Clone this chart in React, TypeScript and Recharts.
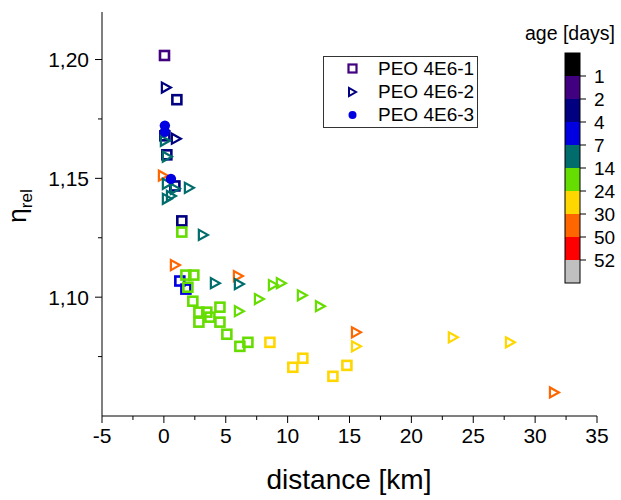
import { ScatterChart, Scatter, XAxis, YAxis } from 'recharts'

/* ---------- data ---------- */

// PEO 4E6-1 (squares)
const peo1Dist = [0.05, 1.05, 0.08, 0.24, 0.89, 1.45, 1.29, 1.78, 1.45, 1.78, 2.42, 1.94, 2.34, 2.83, 2.83, 3.47, 3.72, 4.53, 4.53, 5.09, 6.14, 6.79, 8.57, 10.42, 11.23, 13.66, 14.79]
const peo1Eta = [1.2017, 1.1831, 1.1679, 1.1599, 1.1468, 1.1321, 1.1068, 1.1034, 1.1274, 1.1093, 1.1093, 1.1042, 1.0983, 1.0937, 1.0895, 1.0937, 1.0916, 1.0958, 1.0895, 1.0844, 1.0793, 1.081, 1.081, 1.0705, 1.0743, 1.0667, 1.0713]
const peo1Age = [2, 4, 4, 4, 4, 4, 7, 7, 24, 24, 24, 24, 24, 24, 24, 24, 24, 24, 24, 24, 24, 24, 30, 30, 30, 30, 30]

// PEO 4E6-2 (triangles)
const peo2Dist = [0.16, 0.97, 0.08, 0.24, -0.08, 0.24, 0.89, 2.02, 0.57, 0.24, 3.15, 0.89, 4.12, 5.98, 6.06, 6.06, 7.68, 8.81, 9.45, 11.15, 12.61, 15.52, 15.52, 23.35, 27.96, 31.52]
const peo2Eta = [1.1882, 1.1667, 1.1658, 1.1591, 1.1511, 1.1477, 1.1456, 1.146, 1.1426, 1.1414, 1.1262, 1.1135, 1.1059, 1.1089, 1.1055, 1.0941, 1.0992, 1.1051, 1.1059, 1.1008, 1.0962, 1.0852, 1.0793, 1.0831, 1.081, 1.0599]
const peo2Age = [4, 4, 14, 14, 50, 14, 14, 14, 14, 14, 14, 50, 14, 50, 14, 24, 24, 24, 24, 24, 24, 50, 30, 30, 30, 50]

// PEO 4E6-3 (circles)
const peo3Dist = [0.08, 0.08, 0.57]
const peo3Eta = [1.1722, 1.1696, 1.1498]
const peo3Age = [7, 7, 7]

// colour scale
const ageLevels = [1, 2, 4, 7, 14, 24, 30, 50, 52]
const ageColors = ['#000000', '#400080', '#000080', '#0000e0', '#006c6c', '#66dd00', '#ffd700', '#ff6600', '#ff0000', '#c0c0c0']

const xTicks = [-5, -2.5, 0, 2.5, 5, 7.5, 10, 12.5, 15, 17.5, 20, 22.5, 25, 27.5, 30, 32.5, 35]
const yTicks = [1.075, 1.1, 1.125, 1.15, 1.175, 1.2]

/* ---------- helpers ---------- */

const FONT = '"Liberation Sans", Arial, sans-serif'

const ageColor = (a: number) => {
  const i = ageLevels.findIndex(l => a <= l)
  return ageColors[i < 0 ? ageColors.length - 1 : i]
}

const rows = (xs: number[], ys: number[], ages: number[]) =>
  xs.map((x, i) => ({ x, y: ys[i], age: ages[i] }))

const sq1 = rows(peo1Dist, peo1Eta, peo1Age)
const tri2 = rows(peo2Dist, peo2Eta, peo2Age)
const circ3 = rows(peo3Dist, peo3Eta, peo3Age)

const isMajorX = (v: number) => Math.abs(v % 5) < 1e-9
const isMajorY = (v: number) => Math.abs(v * 20 - Math.round(v * 20)) < 1e-6

function XTick({ x, y, payload }: any) {
  const major = isMajorX(payload.value)
  return (
    <g>
      <line x1={x} x2={x} y1={y} y2={y + (major ? 7 : 4)} stroke="#000" />
      {major && (
        <text x={x} y={y + 27} textAnchor="middle" fontSize={21} fontFamily={FONT} fill="#000">
          {payload.value}
        </text>
      )}
    </g>
  )
}

function YTick({ x, y, payload }: any) {
  const major = isMajorY(payload.value)
  return (
    <g>
      <line x1={x - (major ? 7 : 4)} x2={x} y1={y} y2={y} stroke="#000" />
      {major && (
        <text x={x - 13} y={y + 7.5} textAnchor="end" fontSize={21} fontFamily={FONT} fill="#000">
          {payload.value.toFixed(2).replace('.', ',')}
        </text>
      )}
    </g>
  )
}

const Square = ({ cx, cy, payload }: any) => (
  <rect x={cx - 4.5} y={cy - 4.5} width={9} height={9} fill="none" stroke={ageColor(payload.age)} strokeWidth={2.6} />
)
const Triangle = ({ cx, cy, payload }: any) => (
  <polygon points={`${cx - 4},${cy - 5} ${cx - 4},${cy + 5} ${cx + 5},${cy}`} fill="none" stroke={ageColor(payload.age)} strokeWidth={2.2} strokeLinejoin="miter" />
)
const Dot = ({ cx, cy, payload }: any) => <circle cx={cx} cy={cy} r={5.2} fill={ageColor(payload.age)} />

const YTitle = () => (
  <text transform="translate(26,206) rotate(-90)" textAnchor="middle" fontFamily={FONT} fill="#000">
    <tspan fontSize={26}>η</tspan>
    <tspan fontSize={17} dy={6}>rel</tspan>
  </text>
)

const XTitle = () => (
  <text x={349} y={489} textAnchor="middle" fontSize={28} fontFamily={FONT} fill="#000">
    distance [km]
  </text>
)

/* ---------- legend & colour bar ---------- */

const legendItems = ['PEO 4E6-1', 'PEO 4E6-2', 'PEO 4E6-3']

function SeriesLegend() {
  return (
    <div style={{ position: 'absolute', left: 323, top: 56, width: 153, height: 70, border: '1px solid #333', background: '#fff', fontFamily: FONT }}>
      {legendItems.map((name, i) => (
        <div key={name} style={{ position: 'absolute', left: 0, top: 1 + i * 23, height: 22, display: 'flex', alignItems: 'center' }}>
          <svg width={54} height={22}>
            {i === 0 && <rect x={24.5} y={6.5} width={8} height={8} fill="none" stroke="#400080" strokeWidth={2.2} />}
            {i === 1 && <polygon points="25,7 25,15 32,11" fill="none" stroke="#000080" strokeWidth={2} />}
            {i === 2 && <circle cx={28.5} cy={11} r={4} fill="#0000e0" />}
          </svg>
          <span style={{ fontSize: 19, color: '#000', whiteSpace: 'nowrap' }}>{name}</span>
        </div>
      ))}
    </div>
  )
}

function ColorBar() {
  const seg = 23
  return (
    <div style={{ position: 'absolute', left: 520, top: 20, width: 101, height: 280, fontFamily: FONT }}>
      <div style={{ position: 'absolute', left: 5, top: 2, fontSize: 19.5, whiteSpace: 'nowrap', color: '#000' }}>age [days]</div>
      <svg style={{ position: 'absolute', left: 0, top: 0 }} width={101} height={280}>
        {ageColors.map((c, i) => (
          <rect key={i} x={45} y={33 + i * seg} width={15} height={seg} fill={c} />
        ))}
        <rect x={45} y={33} width={15} height={seg * ageColors.length} fill="none" stroke="#000" />
        {ageLevels.map((l, i) => (
          <g key={l}>
            <line x1={60} x2={66} y1={33 + (i + 1) * seg} y2={33 + (i + 1) * seg} stroke="#000" />
            <text x={74} y={33 + (i + 1) * seg + 7} fontSize={19} fontFamily={FONT} fill="#000">{l}</text>
          </g>
        ))}
      </svg>
    </div>
  )
}

/* ---------- chart ---------- */

export default function App() {
  return (
    <div style={{ position: 'absolute', left: 0, top: 0, width: 621, height: 500, background: '#fff' }}>
      <ScatterChart width={621} height={500} margin={{ top: 12, right: 24, bottom: 0, left: 0 }}>
        <XAxis
          type="number" dataKey="x" domain={[-5, 35]} ticks={xTicks} interval={0}
          height={84} tickSize={0} tickMargin={0} tick={XTick} axisLine={{ stroke: '#000' }}
          allowDataOverflow
        />
        <YAxis
          type="number" dataKey="y" domain={[1.05, 1.22]} ticks={yTicks} interval={0}
          width={102} tickSize={0} tickMargin={0} tick={YTick} axisLine={{ stroke: '#000' }}
          allowDataOverflow
        />
        <Scatter data={sq1} shape={Square} isAnimationActive={false} />
        <Scatter data={tri2} shape={Triangle} isAnimationActive={false} />
        <Scatter data={circ3} shape={Dot} isAnimationActive={false} />
        <YTitle />
        <XTitle />
      </ScatterChart>
      <SeriesLegend />
      <ColorBar />
    </div>
  )
}
